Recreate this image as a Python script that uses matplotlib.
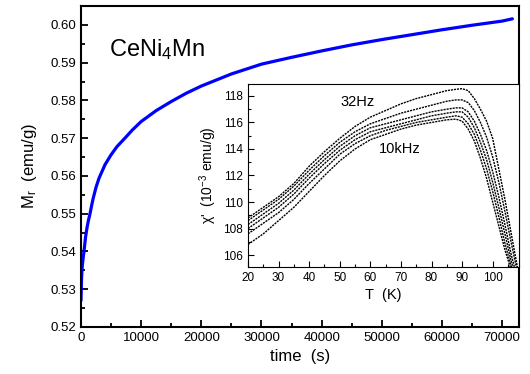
import matplotlib
matplotlib.use("Agg")
import matplotlib.pyplot as plt
from matplotlib.ticker import MultipleLocator, FormatStrFormatter

plt.rcParams['font.family'] = ['Liberation Sans', 'DejaVu Sans']
plt.rcParams['mathtext.fontset'] = 'custom'
plt.rcParams['mathtext.rm'] = 'Liberation Sans'
plt.rcParams['mathtext.it'] = 'Liberation Sans'

# Main relaxation data
time_s = [0, 50, 100, 200, 350, 500, 750, 1000, 1250, 1500, 1750, 2000, 2500, 3000,
          4000, 5000, 6000, 7300, 8500, 10000, 12500, 15000, 17500, 20000, 25000,
          30000, 35000, 40000, 45000, 50000, 55000, 60000, 65000, 70000, 71700]
mr = [0.527, 0.5305, 0.5330, 0.5360, 0.5382, 0.5400, 0.5437, 0.5463, 0.5483, 0.5500,
      0.5520, 0.5539, 0.5570, 0.5594, 0.5630, 0.5656, 0.5678, 0.5700, 0.5721, 0.5744,
      0.5773, 0.5797, 0.5819, 0.5838, 0.5870, 0.5896, 0.5914, 0.5931, 0.5947, 0.5961,
      0.5974, 0.5987, 0.5999, 0.6010, 0.6016]

# Inset chi' data
temp_k = [20, 25, 30, 35, 40, 45, 50, 55, 60, 65, 70, 75, 80, 85, 88, 90, 92, 94,
          96, 98, 100, 102, 104, 106, 108, 109]
chi_32hz = [108.8, 109.6, 110.4, 111.4, 112.7, 113.8, 114.8, 115.7, 116.4, 116.9,
            117.4, 117.8, 118.1, 118.4, 118.5, 118.55, 118.4, 117.8, 117.0, 116.1,
            114.8, 112.5, 110.2, 107.7, 105.2, 104.3]
chi_f2 = [108.6, 109.4, 110.2, 111.2, 112.4, 113.5, 114.5, 115.3, 115.9, 116.3,
          116.7, 117.0, 117.3, 117.6, 117.7, 117.7, 117.5, 116.9, 116.0, 114.9,
          113.4, 111.5, 109.3, 107.0, 104.8, 104.0]
chi_f3 = [108.3, 109.1, 109.9, 110.9, 112.1, 113.2, 114.2, 115.0, 115.6, 115.9,
          116.2, 116.5, 116.8, 117.0, 117.1, 117.1, 116.8, 116.1, 115.1, 113.9,
          112.3, 110.4, 108.3, 106.1, 104.3, 103.6]
chi_f4 = [108.0, 108.8, 109.6, 110.6, 111.8, 112.9, 113.9, 114.7, 115.3, 115.6,
          115.9, 116.2, 116.5, 116.7, 116.8, 116.8, 116.4, 115.6, 114.5, 113.2,
          111.5, 109.6, 107.6, 105.6, 104.0, 103.4]
chi_f5 = [107.6, 108.4, 109.2, 110.2, 111.4, 112.5, 113.6, 114.4, 115.0, 115.4,
          115.7, 116.0, 116.2, 116.4, 116.5, 116.4, 115.9, 115.1, 113.9, 112.5,
          110.8, 108.9, 106.9, 105.2, 103.8, 103.2]
chi_10khz = [106.8, 107.6, 108.6, 109.6, 110.8, 112.0, 113.1, 114.0, 114.7, 115.1,
             115.5, 115.8, 116.0, 116.2, 116.25, 116.1, 115.5, 114.6, 113.3, 111.8,
             110.0, 108.2, 106.4, 104.9, 103.5, 103.0]
inset_series = [chi_32hz, chi_f2, chi_f3, chi_f4, chi_f5, chi_10khz]

fig = plt.figure(figsize=(5.30, 3.74), dpi=100)
ax = fig.add_axes([0.1528, 0.1257, 0.8264, 0.8583])
ax.plot(time_s, mr, color='#0000ff', lw=2.3, solid_capstyle='round', solid_joinstyle='round')
ax.set_xlim(0, 72800)
ax.set_ylim(0.52, 0.605)
ax.xaxis.set_major_locator(MultipleLocator(10000))
ax.xaxis.set_minor_locator(MultipleLocator(5000))
ax.yaxis.set_major_locator(MultipleLocator(0.01))
ax.yaxis.set_minor_locator(MultipleLocator(0.005))
ax.yaxis.set_major_formatter(FormatStrFormatter('%.2f'))
ax.tick_params(which='both', direction='in', labelsize=9.5, width=1.3, top=False, right=False)
ax.tick_params(which='major', length=5)
ax.tick_params(which='minor', length=3)
for s in ax.spines.values():
    s.set_linewidth(1.5)
ax.set_xlabel('time  (s)', fontsize=12, labelpad=4)
ax.set_ylabel(r'M$_\mathrm{r}$  (emu/g)', fontsize=12, labelpad=8)
ax.text(0.063, 0.845, r'CeNi$_4$Mn', transform=ax.transAxes, fontsize=17)

ins = fig.add_axes([0.4679, 0.2861, 0.5113, 0.4893])
for ser in inset_series:
    ins.plot(temp_k, ser, color='black', lw=1.0, ls=(0, (1.5, 0.7)))
ins.set_xlim(20, 108.6)
ins.set_ylim(105.1, 118.9)
ins.xaxis.set_major_locator(MultipleLocator(10))
ins.xaxis.set_minor_locator(MultipleLocator(5))
ins.yaxis.set_major_locator(MultipleLocator(2))
ins.yaxis.set_minor_locator(MultipleLocator(1))
ins.tick_params(which='both', direction='in', labelsize=8.5, width=0.8, top=False, right=False)
ins.tick_params(which='major', length=4)
ins.tick_params(which='minor', length=2)
for s in ins.spines.values():
    s.set_linewidth(0.8)
ins.set_xlabel('T  (K)', fontsize=10.5, labelpad=3)
ins.set_ylabel(r"$\chi$'  (10$^{-3}$ emu/g)", fontsize=10, labelpad=3)
ins.text(55.7, 117.55, '32Hz', fontsize=10.5, ha='center', va='center')
ins.text(69.5, 114.0, '10kHz', fontsize=10.5, ha='center', va='center')

fig.savefig('out.png', dpi=100)
